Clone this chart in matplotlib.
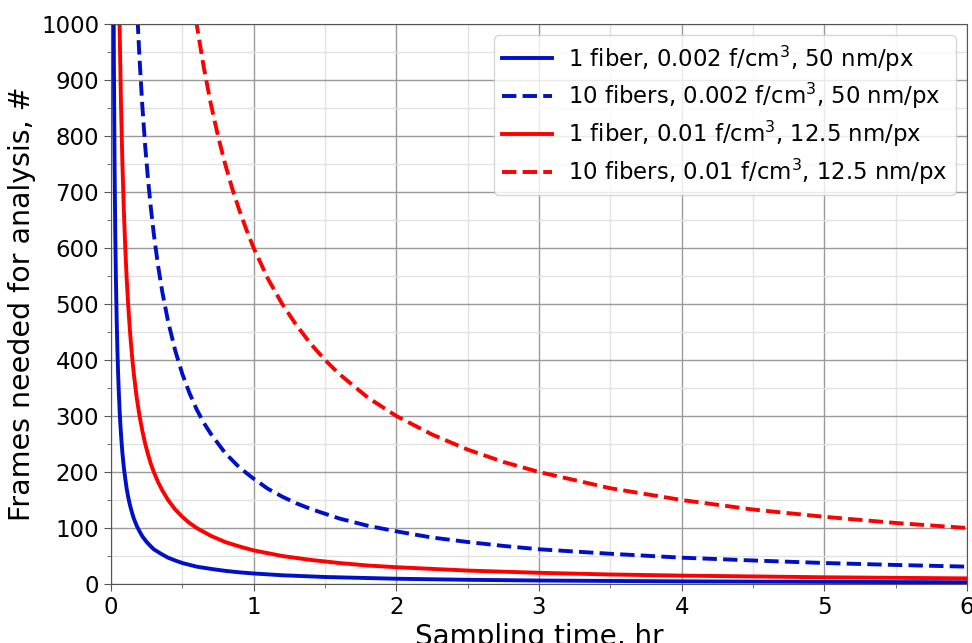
import matplotlib
matplotlib.use("Agg")
import matplotlib.pyplot as plt
from matplotlib.ticker import MultipleLocator

# Values
x_blue_solid = [0.015, 0.02, 0.025, 0.03, 0.035, 0.04, 0.045, 0.05, 0.055, 0.06, 0.065, 0.07, 0.075,
                0.08, 0.09, 0.1, 0.11, 0.12, 0.13, 0.14, 0.15, 0.16, 0.18, 0.2, 0.22, 0.25, 0.28,
                0.3, 0.35, 0.4, 0.45, 0.5, 0.6, 0.7, 0.8, 0.9, 1.0, 1.2, 1.5, 2, 2.5, 3, 4, 5, 6]
y_blue_solid = [1250, 940, 750, 625, 536, 470, 417, 375, 341, 312, 288, 268, 250,
                234, 208, 188, 170, 156, 144, 134, 125, 117, 104, 94, 85, 75, 67,
                62, 54, 47, 42, 37.5, 31, 27, 23.5, 20.8, 18.8, 15.6, 12.5, 9.4, 7.5, 6.2, 4.7, 3.8, 3.1]

x_red_solid = [0.05, 0.06, 0.07, 0.08, 0.09, 0.1, 0.11, 0.12, 0.13, 0.14, 0.15, 0.16, 0.18, 0.2,
               0.22, 0.24, 0.26, 0.28, 0.3, 0.33, 0.36, 0.4, 0.45, 0.5, 0.55, 0.6, 0.7, 0.8, 0.9,
               1.0, 1.2, 1.4, 1.6, 1.8, 2, 2.5, 3, 3.5, 4, 5, 6]
y_red_solid = [1200, 1000, 857, 750, 667, 600, 545, 500, 462, 429, 400, 375, 333, 300,
               273, 250, 231, 214, 200, 182, 167, 150, 133, 120, 109, 100, 86, 75, 67,
               60, 50, 43, 37.5, 33, 30, 24, 20, 17, 15, 12, 10]

x_blue_dash = [0.15, 0.18, 0.2, 0.22, 0.24, 0.26, 0.28, 0.3, 0.33, 0.36, 0.4, 0.45, 0.5, 0.55,
               0.6, 0.65, 0.7, 0.8, 0.9, 1.0, 1.1, 1.2, 1.3, 1.4, 1.6, 1.8, 2, 2.25, 2.5, 2.75,
               3, 3.5, 4, 4.5, 5, 5.5, 6]
y_blue_dash = [1250, 1040, 938, 852, 781, 721, 670, 625, 568, 521, 469, 417, 375, 341,
               312, 288, 268, 234, 208, 188, 170, 156, 144, 134, 117, 104, 94, 83, 75, 68,
               62, 54, 47, 42, 37.5, 34, 31]

x_red_dash = [0.55, 0.6, 0.65, 0.7, 0.75, 0.8, 0.85, 0.9, 0.95, 1.0, 1.1, 1.2, 1.3, 1.4, 1.5,
              1.6, 1.8, 2, 2.25, 2.5, 2.75, 3, 3.5, 4, 4.5, 5, 5.5, 6]
y_red_dash = [1090, 1000, 923, 857, 800, 750, 706, 667, 632, 600, 545, 500, 462, 429, 400,
              375, 333, 300, 267, 240, 218, 200, 171, 150, 133, 120, 109, 100]

labels = [r"1 fiber, 0.002 f/cm$^3$, 50 nm/px",
          r"10 fibers, 0.002 f/cm$^3$, 50 nm/px",
          r"1 fiber, 0.01 f/cm$^3$, 12.5 nm/px",
          r"10 fibers, 0.01 f/cm$^3$, 12.5 nm/px"]

blue = "#0010c8"
red = "#ff0000"

fig = plt.figure(figsize=(9.72, 6.43), dpi=100)
ax = fig.add_axes([111 / 972, 1 - 584 / 643, (967 - 111) / 972, (584 - 24) / 643])

lw = 2.8
ax.plot(x_blue_solid, y_blue_solid, color=blue, lw=lw, ls="-", label=labels[0])
ax.plot(x_blue_dash, y_blue_dash, color=blue, lw=lw, ls="--", label=labels[1])
ax.plot(x_red_solid, y_red_solid, color=red, lw=lw, ls="-", label=labels[2])
ax.plot(x_red_dash, y_red_dash, color=red, lw=lw, ls="--", label=labels[3])

ax.set_xlim(0, 6)
ax.set_ylim(0, 1000)
ax.xaxis.set_major_locator(MultipleLocator(1))
ax.xaxis.set_minor_locator(MultipleLocator(0.5))
ax.yaxis.set_major_locator(MultipleLocator(100))
ax.yaxis.set_minor_locator(MultipleLocator(50))
ax.grid(which="major", color="#9a9a9a", lw=1.0)
ax.grid(which="minor", color="#e2e2e2", lw=1.0)
ax.set_axisbelow(True)
for s in ax.spines.values():
    s.set_color("#555555")
ax.tick_params(which="major", labelsize=16.5, length=5, color="#555555")
ax.tick_params(which="minor", length=3, color="#555555")

ax.set_xlabel("Sampling time, hr", fontsize=20, labelpad=3)
ax.set_ylabel("Frames needed for analysis, #", fontsize=20.5)

ax.legend(loc="upper right", fontsize=16.4, handlelength=2.2, borderpad=0.35,
          labelspacing=0.33, handletextpad=0.7, bbox_to_anchor=(1.0, 1.0))

fig.savefig("out.png", dpi=100)
